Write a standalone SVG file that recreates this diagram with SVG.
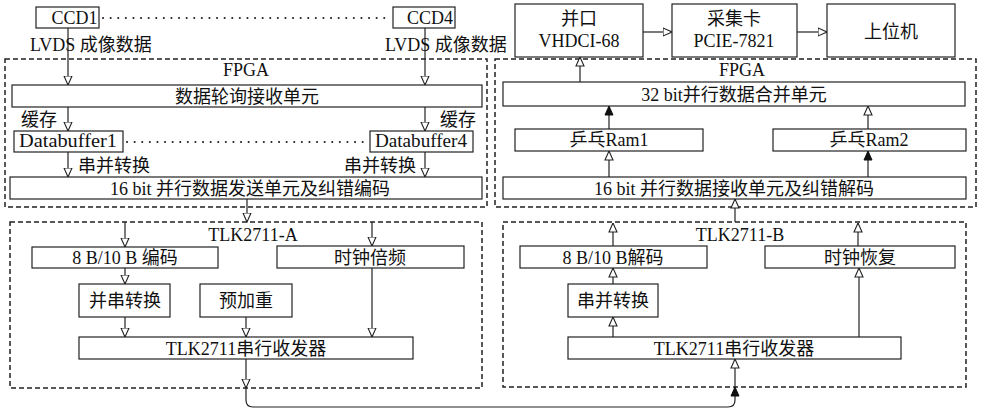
<svg xmlns="http://www.w3.org/2000/svg" width="981" height="412" viewBox="0 0 981 412">
<style>
text{font-family:"Liberation Serif","Noto Sans CJK SC",serif;font-size:18px;fill:#111;text-anchor:middle}
.l{text-anchor:start}
.box{fill:#fff;stroke:#222;stroke-width:1.2}
.grp{fill:none;stroke:#222;stroke-width:1.5;stroke-dasharray:5 3}
.ln{fill:none;stroke:#222;stroke-width:1.2}
.dot{fill:none;stroke:#222;stroke-width:2;stroke-linecap:round;stroke-dasharray:0.1 7.5}
.h{marker-end:url(#ho)}
.f{marker-end:url(#fi)}
</style>
<defs>
<marker id="ho" viewBox="0 0 10 10" refX="9.5" refY="5" markerWidth="10" markerHeight="10" markerUnits="userSpaceOnUse" orient="auto"><path d="M0.5,1 L9.5,5 L0.5,9 Z" fill="#fff" stroke="#222" stroke-width="1.1"/></marker>
<marker id="fi" viewBox="0 0 10 10" refX="9.5" refY="5" markerWidth="10" markerHeight="10" markerUnits="userSpaceOnUse" orient="auto"><path d="M0.5,1 L9.5,5 L0.5,9 Z" fill="#111" stroke="#111" stroke-width="1"/></marker>
</defs>

<g id="groups">
<rect class="grp" x="5" y="59" width="482" height="148"/>
<text x="246" y="76">FPGA</text>
<rect class="grp" x="495" y="59" width="481" height="148"/>
<text x="742" y="76">FPGA</text>
<rect class="grp" x="10" y="222" width="472" height="166"/>
<text x="253" y="241">TLK2711-A</text>
<rect class="grp" x="503" y="222" width="463" height="165"/>
<text x="740" y="241">TLK2711-B</text>
</g>

<g id="connectors">
<path class="dot" d="M103,18 H390"/>
<path class="dot" d="M127,142 H368"/>
<path class="ln h" d="M68,28 V85"/>
<path class="ln h" d="M425,28 V85"/>
<path class="ln h" d="M68,107 V131"/>
<path class="ln h" d="M425,107 V131"/>
<path class="ln h" d="M68,152 V177"/>
<path class="ln h" d="M425,152 V177"/>
<path class="ln h" d="M247,199 V222"/>
<path class="ln h" d="M125,222 V247"/>
<path class="ln h" d="M372,222 V246"/>
<path class="ln h" d="M125,268 V284"/>
<path class="ln h" d="M125,317 V337"/>
<path class="ln h" d="M246,317 V337"/>
<path class="ln h" d="M372,268 V337"/>
<path class="ln h" d="M246,359 V388"/>
<path class="ln f" d="M246,388 V400 Q246,407 253,407 H728 Q735,407 735,400 V387"/>
<path class="ln h" d="M735,387 V359"/>
<path class="ln h" d="M613,337 V317"/>
<path class="ln h" d="M859,337 V268"/>
<path class="ln h" d="M613,284 V268"/>
<path class="ln h" d="M613,246 V223"/>
<path class="ln h" d="M858,246 V223"/>
<path class="ln h" d="M735,222 V199"/>
<path class="ln h" d="M609,177 V151"/>
<path class="ln f" d="M868,177 V151"/>
<path class="ln f" d="M609,129 V106"/>
<path class="ln h" d="M868,129 V106"/>
<path class="ln h" d="M580,82 V57"/>
<path class="ln h" d="M643,32 H672"/>
<path class="ln h" d="M797,32 H827"/>
</g>

<g id="labels">
<text class="l" x="30" y="51">LVDS 成像数据</text>
<text class="l" x="385" y="51">LVDS 成像数据</text>
<text class="l" x="21" y="126">缓存</text>
<text class="l" x="440" y="126">缓存</text>
<text class="l" x="78" y="172">串并转换</text>
<text class="l" x="344" y="172">串并转换</text>
</g>

<g id="ccd1"><rect class="box" x="36" y="7" width="63" height="21"/><text x="74.5" y="24">CCD1</text></g>
<g id="ccd4"><rect class="box" x="393" y="7" width="62" height="21"/><text x="430" y="24">CCD4</text></g>
<g id="poll"><rect class="box" x="12" y="85" width="470" height="22"/><text x="247" y="103">数据轮询接收单元</text></g>
<g id="buf1"><rect class="box" x="14" y="131" width="109" height="21"/><text x="68" y="147" textLength="98" lengthAdjust="spacingAndGlyphs">Databuffer1</text></g>
<g id="buf4"><rect class="box" x="370" y="131" width="103" height="21"/><text x="421" y="147" textLength="92" lengthAdjust="spacingAndGlyphs">Databuffer4</text></g>
<g id="send16"><rect class="box" x="10" y="177" width="472" height="22"/><text x="250" y="195">16 bit 并行数据发送单元及纠错编码</text></g>

<g id="enc"><rect class="box" x="32" y="247" width="186" height="21"/><text x="125" y="264">8 B/10 B 编码</text></g>
<g id="clkmul"><rect class="box" x="277" y="246" width="187" height="22"/><text x="370" y="264">时钟倍频</text></g>
<g id="p2s"><rect class="box" x="79" y="284" width="91" height="33"/><text x="125" y="307">并串转换</text></g>
<g id="preemp"><rect class="box" x="200" y="284" width="92" height="33"/><text x="246" y="307">预加重</text></g>
<g id="txA"><rect class="box" x="79" y="337" width="334" height="22"/><text x="246" y="355">TLK2711串行收发器</text></g>

<g id="vhdci"><rect class="box" x="515" y="4" width="128" height="53"/><text x="579" y="25">并口</text><text x="579" y="47">VHDCI-68</text></g>
<g id="card"><rect class="box" x="672" y="4" width="125" height="53"/><text x="734" y="25">采集卡</text><text x="734" y="47">PCIE-7821</text></g>
<g id="host"><rect class="box" x="827" y="4" width="128" height="53"/><text x="891" y="38">上位机</text></g>
<g id="merge32"><rect class="box" x="503" y="82" width="462" height="24"/><text x="734" y="101">32 bit并行数据合并单元</text></g>
<g id="ram1"><rect class="box" x="515" y="129" width="188" height="22"/><text x="609" y="146">乒乓Ram1</text></g>
<g id="ram2"><rect class="box" x="773" y="129" width="193" height="22"/><text x="869" y="146">乒乓Ram2</text></g>
<g id="recv16"><rect class="box" x="503" y="177" width="463" height="22"/><text x="734" y="195">16 bit 并行数据接收单元及纠错解码</text></g>

<g id="dec"><rect class="box" x="520" y="246" width="187" height="22"/><text x="613" y="264">8 B/10 B解码</text></g>
<g id="clkrec"><rect class="box" x="765" y="246" width="190" height="22"/><text x="860" y="264">时钟恢复</text></g>
<g id="s2p"><rect class="box" x="568" y="284" width="90" height="33"/><text x="613" y="307">串并转换</text></g>
<g id="txB"><rect class="box" x="568" y="337" width="333" height="22"/><text x="734" y="355">TLK2711串行收发器</text></g>
</svg>
